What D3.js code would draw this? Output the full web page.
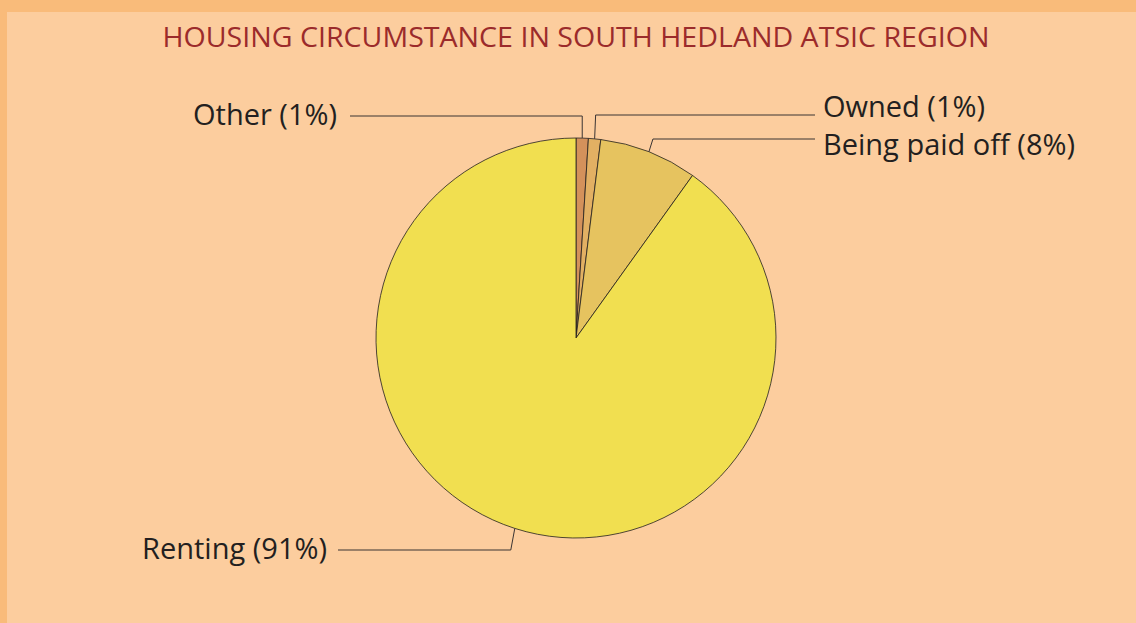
<!DOCTYPE html>
<html>
<meta charset="UTF-8">
<head>
<style>
body { margin: 0; background: #FCCD9E; }
svg { display: block; }
</style>
</head>
<body>
<script src="https://d3js.org/d3.v7.min.js"></script>
<script>

// chart data
var title = "HOUSING CIRCUMSTANCE IN SOUTH HEDLAND ATSIC REGION"
var categories = ["Other", "Owned", "Being paid off", "Renting"]
var shares = [1, 1, 8, 91]
var sliceColors = ["#D4915B", "#E2B063", "#E6C35F", "#F1DF50"]

// canvas
var svgWidth = 1136,
    svgHeight = 623,
    cx = 576,
    cy = 338,
    radius = 200

var svg = d3.select("body").append("svg")
    .attr("width", svgWidth)
    .attr("height", svgHeight)

// background and orange frame at top / left
svg.append("rect").attr("width", svgWidth).attr("height", svgHeight).attr("fill", "#F9BB7A")
svg.append("rect").attr("x", 7).attr("y", 12)
    .attr("width", svgWidth - 7).attr("height", svgHeight - 12)
    .attr("fill", "#FCCD9E")

svg.append("text")
    .attr("x", cx).attr("y", 47)
    .attr("text-anchor", "middle")
    .attr("font-family", "'Open Sans', sans-serif")
    .attr("font-size", 28)
    .attr("fill", "#9B2B2B")
    .attr("textLength", 827)
    .attr("lengthAdjust", "spacingAndGlyphs")
    .text(title)

var data = categories.map((c, i) => ({key: c, value: shares[i], color: sliceColors[i]}))

var pie = d3.pie().sort(null).value(d => d.value)
var arc = d3.arc().innerRadius(0).outerRadius(radius)
var arcs = pie(data)

var g = svg.append("g").attr("transform", "translate(" + cx + "," + cy + ")")

g.selectAll("path.slice").data(arcs).enter().append("path")
    .attr("class", "slice")
    .attr("d", arc)
    .attr("fill", d => d.data.color)
    .attr("stroke", "#231F20")
    .attr("stroke-width", 0.8)
    .attr("stroke-linejoin", "round")

// leader lines: from slice edge to an elbow, then across to the label
var labelLayout = {
  "Other":          {elbowY: 116, side: "left",  endX: 350, textX: 337, textY: 125, dx: 0},
  "Owned":          {elbowY: 115, side: "right", endX: 815, textX: 823, textY: 117, dx: 1},
  "Being paid off": {elbowY: 139, side: "right", endX: 815, textX: 823, textY: 155, dx: 4},
  "Renting":        {elbowY: 550, side: "left",  endX: 338, textX: 327, textY: 559, dx: -4}
}

arcs.forEach(function(d) {
  var lay = labelLayout[d.data.key]
  var mid = (d.startAngle + d.endAngle) / 2
  var ex = cx + radius * Math.sin(mid),
      ey = cy - radius * Math.cos(mid)
  var kx = ex + lay.dx
  svg.append("polyline")
      .attr("points", [[ex, ey], [kx, lay.elbowY], [lay.endX, lay.elbowY]].map(p => p.join(",")).join(" "))
      .attr("fill", "none")
      .attr("stroke", "#3a3433")
      .attr("stroke-width", 1)

  svg.append("text")
      .attr("x", lay.textX)
      .attr("y", lay.textY)
      .attr("text-anchor", lay.side == "left" ? "end" : "start")
      .attr("font-family", "'Open Sans', sans-serif")
      .attr("font-size", 29)
      .attr("fill", "#231F20")
      .text(d.data.key + " (" + d.data.value + "%)")
})

</script>
</body>
</html>
